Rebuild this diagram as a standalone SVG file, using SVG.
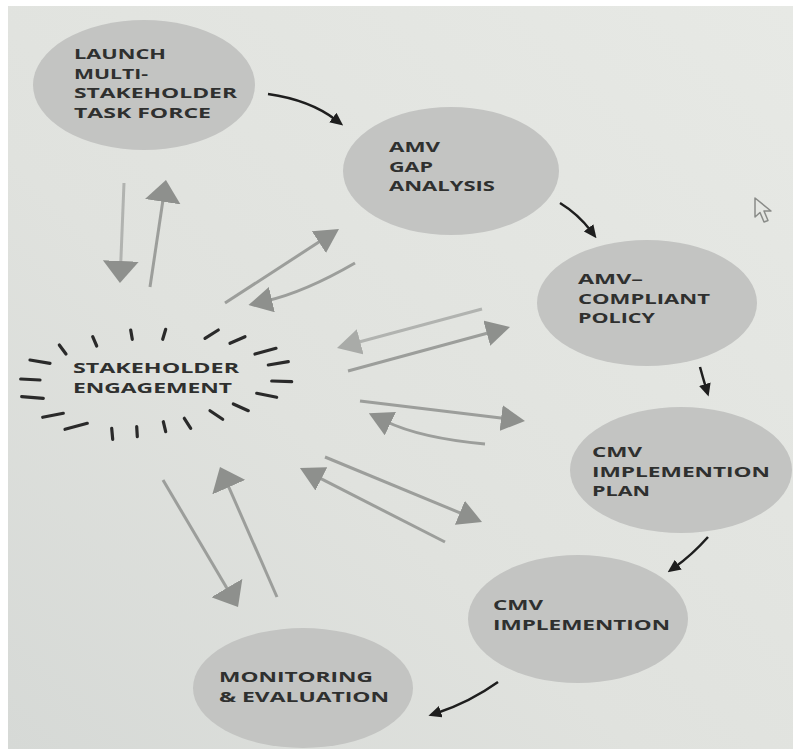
<svg xmlns="http://www.w3.org/2000/svg" width="793" height="749" viewBox="0 0 793 749">
<defs>
<linearGradient id="bg" x1="1" y1="0" x2="0" y2="1">
<stop offset="0" stop-color="#e7e9e5"/>
<stop offset="0.6" stop-color="#e0e2de"/>
<stop offset="1" stop-color="#d6d9d6"/>
</linearGradient>
<marker id="gh" markerUnits="userSpaceOnUse" viewBox="0 0 24 26" markerWidth="24" markerHeight="26" refX="6" refY="13" orient="auto">
<path d="M0,0 L24,13 L0,26 z" fill="#8e908d"/>
</marker>
<marker id="ghl" markerUnits="userSpaceOnUse" viewBox="0 0 24 26" markerWidth="24" markerHeight="26" refX="6" refY="13" orient="auto">
<path d="M0,0 L24,13 L0,26 z" fill="#a9aba8"/>
</marker>
<marker id="gb" markerUnits="userSpaceOnUse" viewBox="0 0 22 36" markerWidth="22" markerHeight="36" refX="6" refY="18" orient="auto">
<path d="M0,0 L22,18 L0,36 z" fill="#8e908d"/>
</marker>
<marker id="bh" markerUnits="userSpaceOnUse" viewBox="0 0 13 12" markerWidth="13" markerHeight="12" refX="4" refY="6" orient="auto">
<path d="M0,0 L13,6 L0,12 z" fill="#1e1e1e"/>
</marker>
</defs>
<style>
.node ellipse { fill: #c3c4c2; }
text { font-family: "Open Sans", "Liberation Sans", sans-serif; font-weight: 700; font-size: 14.5px; fill: #2f302f; }
.g { fill: none; stroke: #9c9e9b; stroke-width: 3; }
.gl { fill: none; stroke: #b1b3b0; stroke-width: 3; }
.b { fill: none; stroke: #1e1e1e; stroke-width: 2.5; }
.dash line { stroke: #2a2a2a; stroke-width: 3.2; stroke-linecap: round; }
</style>
<rect x="0" y="0" width="793" height="749" fill="#ffffff"/>
<rect x="8" y="6" width="785" height="743" fill="url(#bg)"/>

<g id="launch" class="node">
<ellipse cx="144" cy="85" rx="111" ry="65"/>
<text x="74" y="59" textLength="92" lengthAdjust="spacingAndGlyphs">LAUNCH</text>
<text x="74" y="78.5" textLength="74" lengthAdjust="spacingAndGlyphs">MULTI-</text>
<text x="74" y="98" textLength="163" lengthAdjust="spacingAndGlyphs">STAKEHOLDER</text>
<text x="74" y="117.5" textLength="137" lengthAdjust="spacingAndGlyphs">TASK FORCE</text>
</g>

<g id="gap" class="node">
<ellipse cx="451" cy="171" rx="108" ry="64"/>
<text x="389" y="152" textLength="51" lengthAdjust="spacingAndGlyphs">AMV</text>
<text x="389" y="171.5" textLength="44" lengthAdjust="spacingAndGlyphs">GAP</text>
<text x="389" y="191" textLength="106" lengthAdjust="spacingAndGlyphs">ANALYSIS</text>
</g>

<g id="policy" class="node">
<ellipse cx="647" cy="303" rx="110" ry="63"/>
<text x="578" y="284" textLength="65" lengthAdjust="spacingAndGlyphs">AMV–</text>
<text x="578" y="303.5" textLength="132" lengthAdjust="spacingAndGlyphs">COMPLIANT</text>
<text x="578" y="323" textLength="77" lengthAdjust="spacingAndGlyphs">POLICY</text>
</g>

<g id="plan" class="node">
<ellipse cx="681" cy="470" rx="111" ry="63"/>
<text x="592" y="457" textLength="50" lengthAdjust="spacingAndGlyphs">CMV</text>
<text x="592" y="476.5" textLength="178" lengthAdjust="spacingAndGlyphs">IMPLEMENTION</text>
<text x="592" y="496" textLength="58" lengthAdjust="spacingAndGlyphs">PLAN</text>
</g>

<g id="implementation" class="node">
<ellipse cx="578" cy="619" rx="110" ry="64"/>
<text x="493" y="610" textLength="50" lengthAdjust="spacingAndGlyphs">CMV</text>
<text x="493" y="630" textLength="177" lengthAdjust="spacingAndGlyphs">IMPLEMENTION</text>
</g>

<g id="monitoring" class="node">
<ellipse cx="303" cy="688" rx="110" ry="60"/>
<text x="219" y="682" textLength="154" lengthAdjust="spacingAndGlyphs">MONITORING</text>
<text x="219" y="702" textLength="170" lengthAdjust="spacingAndGlyphs">&amp; EVALUATION</text>
</g>

<g id="stakeholder">
<g class="dash">
<line x1="59.3" y1="345" x2="66" y2="354"/>
<line x1="92.7" y1="336.7" x2="96.7" y2="346"/>
<line x1="130.7" y1="330" x2="132.3" y2="339.3"/>
<line x1="165.7" y1="329.3" x2="162.7" y2="339.3"/>
<line x1="205" y1="338.3" x2="218.3" y2="330"/>
<line x1="230" y1="343.3" x2="245" y2="336.7"/>
<line x1="255" y1="354" x2="276" y2="348.3"/>
<line x1="268.3" y1="365" x2="288.3" y2="361.7"/>
<line x1="271.7" y1="381" x2="291.7" y2="381.7"/>
<line x1="256.7" y1="393.3" x2="276.7" y2="397.3"/>
<line x1="233.3" y1="404" x2="248.3" y2="410.7"/>
<line x1="210" y1="410.7" x2="222.7" y2="419.3"/>
<line x1="184.3" y1="418.3" x2="190.7" y2="428.3"/>
<line x1="163.3" y1="421.7" x2="165.7" y2="431.7"/>
<line x1="136.7" y1="426.7" x2="137.3" y2="436.7"/>
<line x1="111.7" y1="428.3" x2="112.7" y2="439.3"/>
<line x1="65" y1="429.3" x2="87.3" y2="423.3"/>
<line x1="42.7" y1="417.3" x2="63.3" y2="413.3"/>
<line x1="21.7" y1="396.7" x2="43.3" y2="398.3"/>
<line x1="20.7" y1="379" x2="40" y2="380"/>
<line x1="30" y1="360" x2="50" y2="363.3"/>
</g>
<text x="73" y="373" textLength="166" lengthAdjust="spacingAndGlyphs">STAKEHOLDER</text>
<text x="73" y="392.5" textLength="159" lengthAdjust="spacingAndGlyphs">ENGAGEMENT</text>
</g>

<g id="connectors">
<path class="b" d="M268,94 Q310,100 336,120" marker-end="url(#bh)"/>
<path class="b" d="M560,203 Q578,214 591,231" marker-end="url(#bh)"/>
<path class="b" d="M700,367 Q703,378 706,388" marker-end="url(#bh)"/>
<path class="b" d="M708,537 Q692,555 675,567" marker-end="url(#bh)"/>
<path class="b" d="M498,682 Q470,702 437,713" marker-end="url(#bh)"/>

<path class="gl" d="M124,183 L120.6,267" marker-end="url(#gb)"/>
<path class="g" d="M150,287 L163.6,195.8" marker-end="url(#gb)"/>
<path class="g" d="M225,303 L323.9,238.8" marker-end="url(#gh)"/>
<path class="g" d="M355,263 Q305,292 266,301" marker-end="url(#gh)"/>
<path class="gl" d="M482,309 L354.4,343.3" marker-end="url(#ghl)"/>
<path class="g" d="M348,371 L492.6,331.7" marker-end="url(#gh)"/>
<path class="g" d="M360,401 L507.1,418.8" marker-end="url(#gh)"/>
<path class="g" d="M485,444 Q420,438 385,421" marker-end="url(#gh)"/>
<path class="g" d="M325,457 L465.4,515.1" marker-end="url(#gh)"/>
<path class="g" d="M445,542 L316,476.2" marker-end="url(#gh)"/>
<path class="g" d="M163,480 L229.9,593.2" marker-end="url(#gb)"/>
<path class="g" d="M277,597 L226.4,481.7" marker-end="url(#gb)"/>
</g>

<path d="M755,198 L755,217 L760,212.5 L764,222 L768,220.5 L764,211 L771,211 Z" fill="none" stroke="#8a8c89" stroke-width="1.5" stroke-linejoin="round"/>
</svg>
